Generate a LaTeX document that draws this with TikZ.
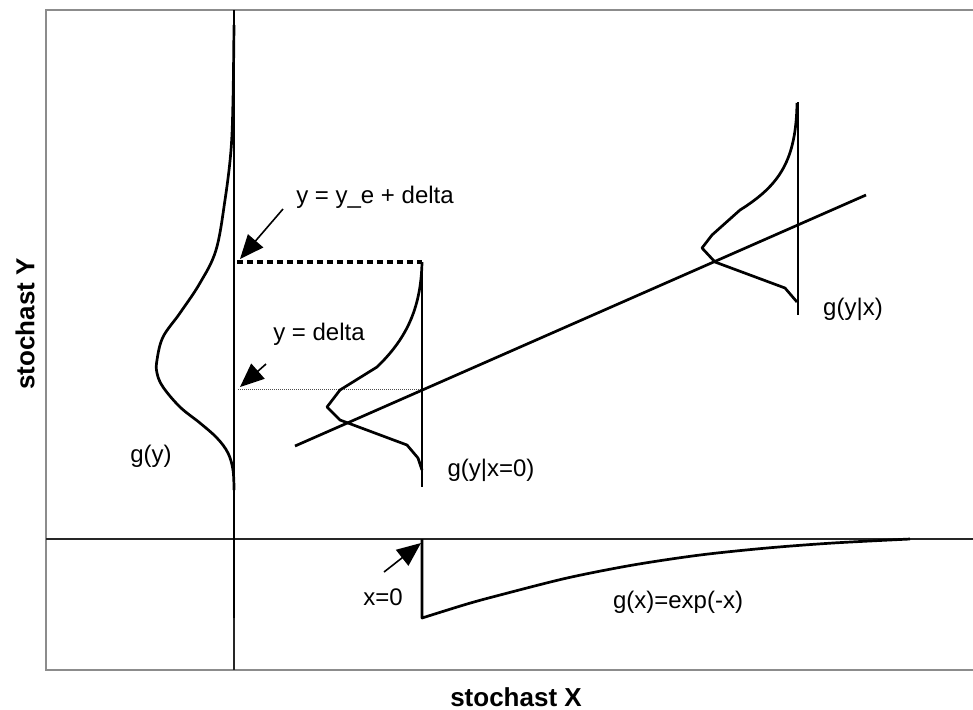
\documentclass[tikz,border=0pt]{standalone}
\usepackage{fontspec}
\setmainfont{Liberation Sans}
\usetikzlibrary{arrows.meta}
\begin{document}
\begin{tikzpicture}[x=0.5pt,y=-0.5pt,
  frame/.style={draw=black!45,line width=1pt},
  axis/.style={draw=black!85,line width=0.6pt},
  curve/.style={draw=black,line width=1.35pt,line join=round},
  pointer/.style={draw=black,line width=0.8pt,-{Triangle[length=12pt,width=10pt]}},
  lbl/.style={font=\fontsize{12}{14}\selectfont,inner sep=0pt},
  axlbl/.style={font=\fontsize{13}{15}\selectfont\bfseries,inner sep=0pt}]
\useasboundingbox (0,0) rectangle (973,709);

% plot frame (open on the right)
\draw[frame] (973,10) -- (46,10) -- (46,670) -- (973,670);

% axes
\draw[axis] (46,539) -- (973,539);
\draw[axis] (234,10) -- (234,670);

% marginal density g(y) along the y axis
\draw[curve] (234,10) -- (234,618);
\draw[curve] plot[smooth,tension=0.6] coordinates {
  (234,25) (233,100) (231,150) (225,200) (216,250) (200,283) (180,313)
  (163,337) (157,360) (157,373) (163,387) (180,407) (200,423) (217,438)
  (228,453) (233,470) (234,490)};

% levels y = y_e + delta and y = delta
\draw[curve,line width=1.6pt,line cap=butt,dash pattern=on 3pt off 2pt] (237,262) -- (422,262);
\draw[black!70,line width=0.5pt,dash pattern=on 0.5pt off 0.5pt] (238,389) -- (422,389);

% conditional density g(y|x=0)
\draw[curve] (422,262) -- (422,487);
\draw[curve] (422,262) .. controls (421,310) and (405,340) .. (377,367)
  -- (340,390) -- (327,407) -- (340,420) -- (407,445) -- (418,458) -- (422,470);

% regression line
\draw[curve] (295,446) -- (866,195);

% conditional density g(y|x)
\draw[curve] (798,102) -- (798,315);
\draw[curve] (797,103) .. controls (796,160) and (780,185) .. (740,210)
  -- (712,235) -- (702,248) -- (715,262) -- (785,288) -- (797,302);

% marginal density g(x) = exp(-x)
\draw[curve] (422,539) -- (422,618) -- plot[smooth,tension=0.5] coordinates {
  (422,618) (467,604) (500,595) (567,578) (633,565) (700,555) (767,548)
  (833,543) (910,539)};

% labels
\node[lbl] (lblYe) at (375,197) {y = y\_e + delta};
\node[lbl] (lblDelta) at (319,334) {y = delta};
\node[lbl] (lblGy) at (151,456) {g(y)};
\node[lbl] (lblGyx0) at (491,470) {g(y|x=0)};
\node[lbl] (lblGyx) at (853,309) {g(y|x)};
\node[lbl] (lblX0) at (383,597) {x=0};
\node[lbl] (lblGx) at (678,602) {g(x)=exp(-x)};
\node[axlbl] (lblX) at (516,697) {stochast X};
\node[axlbl,rotate=90] (lblY) at (25,324) {stochast Y};

% pointers
\coordinate (tailYe) at (283,209);
\coordinate (tipYe) at (240,259);
\coordinate (tailDelta) at (266,364);
\coordinate (tipDelta) at (240,387);
\coordinate (tailX0) at (384,572);
\coordinate (tipX0) at (421,543);
\draw[pointer] (tailYe) -- (tipYe);
\draw[pointer] (tailDelta) -- (tipDelta);
\draw[pointer] (tailX0) -- (tipX0);
\end{tikzpicture}
\end{document}
